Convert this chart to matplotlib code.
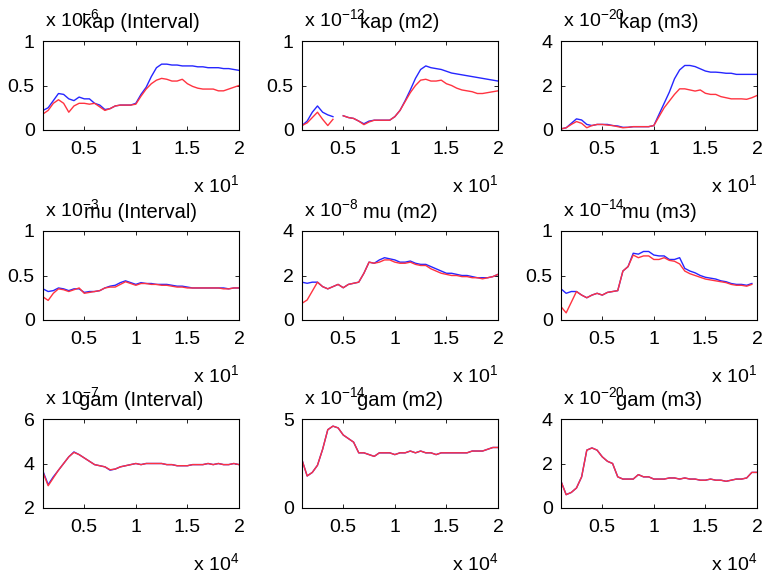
import matplotlib
matplotlib.use("Agg")
import matplotlib.pyplot as plt
import numpy as np

plt.rcParams['font.family'] = ['Liberation Sans', 'DejaVu Sans']
plt.rcParams['mathtext.default'] = 'regular'

# x positions (in units of 10^4)
x_vals = [0.10, 0.15, 0.20, 0.25, 0.30, 0.35, 0.40, 0.45, 0.50, 0.55, 0.60, 0.65, 0.70,
          0.75, 0.80, 0.85, 0.90, 0.95, 1.00, 1.05, 1.10, 1.15, 1.20, 1.25, 1.30, 1.35,
          1.40, 1.45, 1.50, 1.55, 1.60, 1.65, 1.70, 1.75, 1.80, 1.85, 1.90, 1.95, 2.00]

nan = float('nan')

kap_int_blue = [0.22, 0.25, 0.33, 0.41, 0.40, 0.35, 0.33, 0.37, 0.35, 0.35, 0.30, 0.28, 0.23,
                0.24, 0.27, 0.28, 0.28, 0.28, 0.30, 0.40, 0.48, 0.60, 0.70, 0.74, 0.74, 0.73,
                0.73, 0.72, 0.72, 0.72, 0.71, 0.71, 0.70, 0.70, 0.70, 0.69, 0.69, 0.68, 0.67]
kap_int_red = [0.18, 0.22, 0.30, 0.34, 0.30, 0.20, 0.27, 0.30, 0.30, 0.29, 0.30, 0.26, 0.22,
               0.24, 0.27, 0.28, 0.28, 0.28, 0.29, 0.38, 0.46, 0.52, 0.56, 0.58, 0.57, 0.55,
               0.55, 0.57, 0.52, 0.49, 0.47, 0.46, 0.46, 0.46, 0.44, 0.44, 0.46, 0.48, 0.50]

kap_m2_blue = [0.05, 0.10, 0.20, 0.27, 0.20, 0.17, 0.15, nan, 0.16, 0.14, 0.13, 0.10, 0.07,
               0.10, 0.11, 0.11, 0.11, 0.11, 0.15, 0.22, 0.33, 0.45, 0.58, 0.68, 0.72, 0.70,
               0.69, 0.68, 0.66, 0.64, 0.63, 0.62, 0.61, 0.60, 0.59, 0.58, 0.57, 0.56, 0.55]
kap_m2_red = [0.05, 0.08, 0.14, 0.20, 0.12, 0.05, 0.12, nan, 0.16, 0.14, 0.13, 0.10, 0.06,
              0.09, 0.11, 0.11, 0.11, 0.11, 0.15, 0.22, 0.32, 0.42, 0.50, 0.56, 0.57, 0.55,
              0.55, 0.56, 0.52, 0.50, 0.47, 0.45, 0.44, 0.43, 0.41, 0.41, 0.42, 0.43, 0.44]

kap_m3_blue = [0.05, 0.10, 0.30, 0.50, 0.45, 0.25, 0.20, 0.25, 0.25, 0.25, 0.20, 0.18, 0.12,
               0.12, 0.15, 0.15, 0.15, 0.15, 0.20, 0.70, 1.20, 1.70, 2.30, 2.70, 2.90, 2.90,
               2.85, 2.75, 2.65, 2.60, 2.60, 2.58, 2.55, 2.55, 2.50, 2.50, 2.50, 2.50, 2.50]
kap_m3_red = [0.05, 0.10, 0.25, 0.38, 0.30, 0.10, 0.20, 0.25, 0.25, 0.22, 0.20, 0.15, 0.10,
              0.12, 0.15, 0.15, 0.15, 0.15, 0.20, 0.60, 1.00, 1.30, 1.60, 1.85, 1.85, 1.80,
              1.75, 1.80, 1.65, 1.60, 1.60, 1.50, 1.45, 1.40, 1.40, 1.40, 1.38, 1.45, 1.55]

mu_int_blue = [0.35, 0.32, 0.33, 0.36, 0.35, 0.33, 0.35, 0.35, 0.31, 0.32, 0.32, 0.33, 0.36,
               0.38, 0.39, 0.42, 0.44, 0.42, 0.40, 0.42, 0.41, 0.41, 0.40, 0.40, 0.40, 0.39,
               0.38, 0.38, 0.37, 0.36, 0.36, 0.36, 0.36, 0.36, 0.36, 0.36, 0.35, 0.36, 0.36]
mu_int_red = [0.26, 0.22, 0.30, 0.35, 0.34, 0.32, 0.34, 0.36, 0.30, 0.31, 0.32, 0.33, 0.36,
              0.37, 0.37, 0.40, 0.43, 0.41, 0.39, 0.41, 0.41, 0.40, 0.40, 0.39, 0.39, 0.38,
              0.37, 0.37, 0.36, 0.36, 0.36, 0.36, 0.36, 0.36, 0.36, 0.35, 0.35, 0.36, 0.36]

mu_m2_blue = [1.70, 1.65, 1.70, 1.70, 1.50, 1.40, 1.50, 1.60, 1.45, 1.60, 1.65, 1.70, 2.10,
              2.60, 2.55, 2.70, 2.80, 2.75, 2.70, 2.60, 2.60, 2.65, 2.55, 2.50, 2.50, 2.40,
              2.30, 2.20, 2.10, 2.10, 2.05, 2.00, 2.00, 1.95, 1.90, 1.90, 1.90, 1.95, 2.05]
mu_m2_red = [0.75, 0.90, 1.30, 1.70, 1.50, 1.40, 1.50, 1.60, 1.45, 1.60, 1.65, 1.70, 2.10,
             2.60, 2.55, 2.60, 2.70, 2.70, 2.60, 2.55, 2.55, 2.60, 2.50, 2.45, 2.45, 2.30,
             2.20, 2.10, 2.05, 2.00, 2.00, 1.95, 1.95, 1.90, 1.90, 1.85, 1.90, 1.95, 2.05]

mu_m3_blue = [0.35, 0.30, 0.32, 0.32, 0.28, 0.25, 0.28, 0.30, 0.28, 0.31, 0.32, 0.33, 0.55,
              0.60, 0.75, 0.74, 0.77, 0.77, 0.73, 0.72, 0.72, 0.68, 0.68, 0.70, 0.58, 0.55,
              0.53, 0.50, 0.48, 0.47, 0.46, 0.44, 0.43, 0.41, 0.40, 0.40, 0.39, 0.41, nan]
mu_m3_red = [0.15, 0.08, 0.20, 0.32, 0.28, 0.25, 0.28, 0.30, 0.28, 0.31, 0.32, 0.33, 0.55,
             0.60, 0.73, 0.70, 0.72, 0.72, 0.68, 0.68, 0.70, 0.67, 0.66, 0.63, 0.55, 0.52,
             0.50, 0.48, 0.46, 0.45, 0.44, 0.43, 0.42, 0.40, 0.39, 0.39, 0.38, 0.40, nan]

gam_int_blue = [3.65, 3.05, 3.40, 3.70, 4.00, 4.30, 4.52, 4.40, 4.25, 4.10, 3.95, 3.90, 3.85,
                3.70, 3.75, 3.85, 3.90, 3.95, 4.00, 3.95, 4.00, 4.00, 4.00, 4.00, 3.95, 3.95,
                3.90, 3.90, 3.90, 3.95, 3.95, 3.95, 4.00, 3.95, 4.00, 3.95, 3.95, 4.00, 3.95]
gam_int_red = [3.60, 3.00, 3.35, 3.70, 4.00, 4.30, 4.50, 4.40, 4.25, 4.10, 3.95, 3.90, 3.85,
               3.72, 3.75, 3.85, 3.90, 3.95, 4.00, 3.95, 4.00, 4.00, 4.00, 4.00, 3.95, 3.95,
               3.90, 3.90, 3.90, 3.95, 3.95, 3.95, 4.00, 3.95, 4.00, 3.95, 3.95, 4.00, 3.95]

gam_m2_blue = [2.70, 1.80, 2.00, 2.40, 3.30, 4.40, 4.60, 4.50, 4.10, 3.90, 3.70, 3.10, 3.10,
               3.00, 2.90, 3.10, 3.10, 3.10, 3.00, 3.10, 3.10, 3.20, 3.10, 3.20, 3.10, 3.10,
               3.00, 3.10, 3.10, 3.10, 3.10, 3.10, 3.10, 3.20, 3.20, 3.20, 3.30, 3.40, 3.40]
gam_m2_red = [2.70, 1.80, 2.00, 2.40, 3.30, 4.40, 4.60, 4.50, 4.10, 3.90, 3.70, 3.10, 3.10,
              3.00, 2.90, 3.10, 3.10, 3.10, 3.00, 3.10, 3.10, 3.20, 3.10, 3.20, 3.10, 3.10,
              3.00, 3.10, 3.10, 3.10, 3.10, 3.10, 3.10, 3.20, 3.20, 3.20, 3.30, 3.40, 3.40]

gam_m3_blue = [1.20, 0.60, 0.70, 0.90, 1.40, 2.60, 2.70, 2.60, 2.30, 2.10, 2.00, 1.40, 1.30,
               1.30, 1.30, 1.50, 1.40, 1.40, 1.30, 1.30, 1.30, 1.35, 1.35, 1.30, 1.35, 1.30,
               1.30, 1.25, 1.25, 1.30, 1.25, 1.25, 1.20, 1.25, 1.30, 1.30, 1.35, 1.60, 1.60]
gam_m3_red = [1.20, 0.60, 0.70, 0.90, 1.40, 2.60, 2.70, 2.60, 2.30, 2.10, 2.00, 1.40, 1.30,
              1.30, 1.30, 1.50, 1.40, 1.40, 1.30, 1.30, 1.30, 1.35, 1.35, 1.30, 1.35, 1.30,
              1.30, 1.25, 1.25, 1.30, 1.25, 1.25, 1.20, 1.25, 1.30, 1.30, 1.35, 1.60, 1.60]

titles = ["kap (Interval)", "kap (m2)", "kap (m3)",
          "mu (Interval)", "mu (m2)", "mu (m3)",
          "gam (Interval)", "gam (m2)", "gam (m3)"]
y_exponents = ["-6", "-12", "-20", "-3", "-8", "-14", "-7", "-14", "-20"]
x_exponents = ["1", "1", "1", "1", "1", "1", "4", "4", "4"]
y_ticks = [[0, 0.5, 1], [0, 0.5, 1], [0, 2, 4],
           [0, 0.5, 1], [0, 2, 4], [0, 0.5, 1],
           [2, 4, 6], [0, 5], [0, 2, 4]]
y_ticklabels = [["0", "0.5", "1"], ["0", "0.5", "1"], ["0", "2", "4"],
                ["0", "0.5", "1"], ["0", "2", "4"], ["0", "0.5", "1"],
                ["2", "4", "6"], ["0", "5"], ["0", "2", "4"]]
x_ticks = [0.5, 1.0, 1.5, 2.0]
x_ticklabels = ["0.5", "1", "1.5", "2"]

blue_series = [kap_int_blue, kap_m2_blue, kap_m3_blue, mu_int_blue, mu_m2_blue, mu_m3_blue,
               gam_int_blue, gam_m2_blue, gam_m3_blue]
red_series = [kap_int_red, kap_m2_red, kap_m3_red, mu_int_red, mu_m2_red, mu_m3_red,
              gam_int_red, gam_m2_red, gam_m3_red]

W, H = 767, 574
fig = plt.figure(figsize=(W / 100, H / 100), dpi=100)

col_left = [43, 302, 561]
row_bottom = [130, 320, 508]
aw, ah = 196, 89
FS = 14.0

for i in range(9):
    r, c = divmod(i, 3)
    ax = fig.add_axes([col_left[c] / W, 1 - row_bottom[r] / H, aw / W, ah / H])
    ax.plot(x_vals, blue_series[i], color=(0.15, 0.15, 1.0), lw=1.0)
    ax.plot(x_vals, red_series[i], color=(1.0, 0.2, 0.25), lw=1.0)
    ax.set_xlim(0.1, 2.0)
    yt = y_ticks[i]
    ax.set_ylim(yt[0], yt[-1])
    ax.set_yticks(yt)
    ax.set_yticklabels(y_ticklabels[i])
    ax.set_xticks(x_ticks)
    ax.set_xticklabels(x_ticklabels)
    ax.tick_params(direction='in', top=True, right=True, length=3, width=0.6,
                   labelsize=FS, pad=6)
    ax.tick_params(axis='x', pad=8)
    for s in ax.spines.values():
        s.set_linewidth(0.8)
    ax.set_title(titles[i], fontsize=14.5, pad=9)
    ax.text(0.01, 1.12, "x 10$^{" + y_exponents[i] + "}$", transform=ax.transAxes,
            ha='left', va='bottom', fontsize=FS)
    ax.text(1.0, -0.50, "x 10$^{" + x_exponents[i] + "}$", transform=ax.transAxes,
            ha='right', va='top', fontsize=FS)

fig.savefig("out.png", dpi=100, facecolor='white')
